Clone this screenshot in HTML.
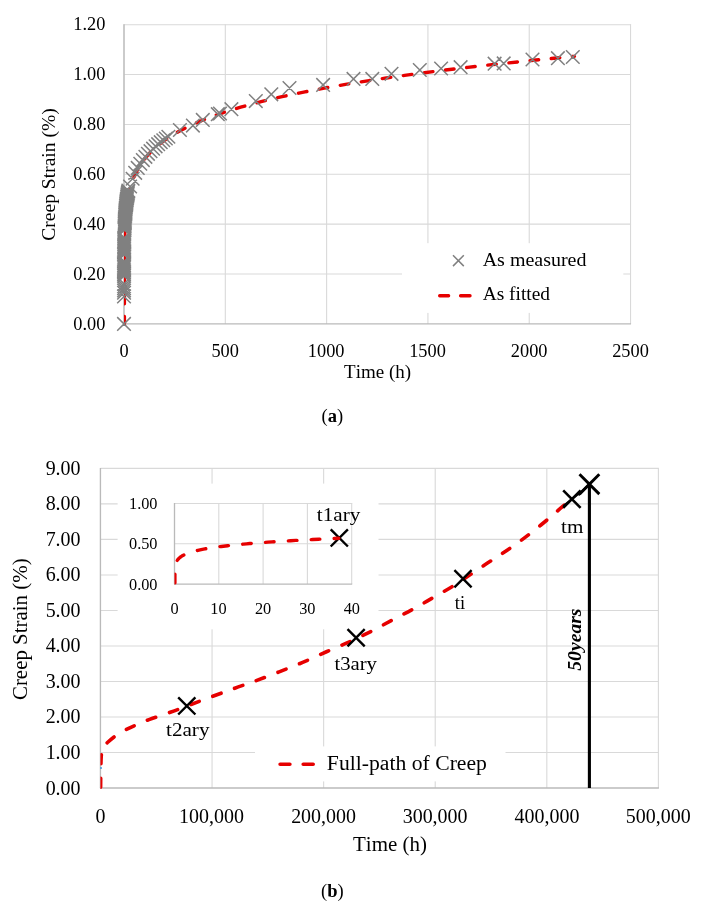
<!DOCTYPE html>
<html><head><meta charset="utf-8"><title>Creep strain charts</title>
<style>
html,body{margin:0;padding:0;background:#fff;}
body{width:701px;height:914px;overflow:hidden;}
svg{display:block;will-change:transform;}
text{font-family:"Liberation Serif", serif;fill:#000;font-kerning:none;}
</style></head>
<body>
<svg width="701" height="914" viewBox="0 0 701 914">
<rect width="701" height="914" fill="#fff"/>
<line x1="124" y1="274.03" x2="631.05" y2="274.03" stroke="#d9d9d9" stroke-width="1.1"/>
<line x1="124" y1="224.17" x2="631.05" y2="224.17" stroke="#d9d9d9" stroke-width="1.1"/>
<line x1="124" y1="174.3" x2="631.05" y2="174.3" stroke="#d9d9d9" stroke-width="1.1"/>
<line x1="124" y1="124.43" x2="631.05" y2="124.43" stroke="#d9d9d9" stroke-width="1.1"/>
<line x1="124" y1="74.57" x2="631.05" y2="74.57" stroke="#d9d9d9" stroke-width="1.1"/>
<line x1="124" y1="24.7" x2="631.05" y2="24.7" stroke="#d9d9d9" stroke-width="1.1"/>
<line x1="124" y1="24.2" x2="124" y2="323.9" stroke="#d9d9d9" stroke-width="1.1"/>
<line x1="225.31" y1="24.2" x2="225.31" y2="323.9" stroke="#d9d9d9" stroke-width="1.1"/>
<line x1="326.62" y1="24.2" x2="326.62" y2="323.9" stroke="#d9d9d9" stroke-width="1.1"/>
<line x1="427.93" y1="24.2" x2="427.93" y2="323.9" stroke="#d9d9d9" stroke-width="1.1"/>
<line x1="529.24" y1="24.2" x2="529.24" y2="323.9" stroke="#d9d9d9" stroke-width="1.1"/>
<line x1="630.55" y1="24.2" x2="630.55" y2="323.9" stroke="#d9d9d9" stroke-width="1.1"/>
<line x1="123.5" y1="323.9" x2="631.05" y2="323.9" stroke="#bababa" stroke-width="1.3"/>
<line x1="124" y1="24.2" x2="124" y2="323.9" stroke="#bababa" stroke-width="1.3"/>
<rect x="402" y="243.2" width="221.3" height="69.7" fill="#fff"/>
<text x="73.22" y="330.00" font-size="18.9" textLength="32.08" lengthAdjust="spacingAndGlyphs">0.00</text>
<text x="73.22" y="280.00" font-size="18.9" textLength="32.08" lengthAdjust="spacingAndGlyphs">0.20</text>
<text x="73.22" y="230.00" font-size="18.9" textLength="32.08" lengthAdjust="spacingAndGlyphs">0.40</text>
<text x="73.22" y="180.00" font-size="18.9" textLength="32.08" lengthAdjust="spacingAndGlyphs">0.60</text>
<text x="73.22" y="130.00" font-size="18.9" textLength="32.08" lengthAdjust="spacingAndGlyphs">0.80</text>
<text x="73.22" y="80.00" font-size="18.9" textLength="32.08" lengthAdjust="spacingAndGlyphs">1.00</text>
<text x="73.22" y="30.00" font-size="18.9" textLength="32.08" lengthAdjust="spacingAndGlyphs">1.20</text>
<text x="119.42" y="356.70" font-size="18.9" textLength="9.17" lengthAdjust="spacingAndGlyphs">0</text>
<text x="211.38" y="356.70" font-size="18.9" textLength="27.50" lengthAdjust="spacingAndGlyphs">500</text>
<text x="307.83" y="356.70" font-size="18.9" textLength="36.67" lengthAdjust="spacingAndGlyphs">1000</text>
<text x="409.14" y="356.70" font-size="18.9" textLength="36.67" lengthAdjust="spacingAndGlyphs">1500</text>
<text x="510.85" y="356.70" font-size="18.9" textLength="36.67" lengthAdjust="spacingAndGlyphs">2000</text>
<text x="612.16" y="356.70" font-size="18.9" textLength="36.67" lengthAdjust="spacingAndGlyphs">2500</text>
<text x="344.06" y="378.20" font-size="18.3" textLength="67.08" lengthAdjust="spacingAndGlyphs">Time (h)</text>
<text transform="translate(54.80,0) rotate(-90)" x="-240.70" y="0" font-size="18.5" textLength="132.46" lengthAdjust="spacingAndGlyphs">Creep Strain (%)</text>
<text x="332.3" y="422.4" text-anchor="middle" font-size="18.5">(<tspan font-weight="bold">a</tspan>)</text>
<clipPath id="ca"><rect x="124" y="0" width="520" height="340"/></clipPath>
<g clip-path="url(#ca)"><path d="M124.4,324.3 L124.4,305.03 L124.4,304.93 L124.4,304.82 L124.4,304.72 L124.4,304.62 L124.4,304.51 L124.4,304.41 L124.4,304.3 L124.4,304.2 L124.4,304.09 L124.4,303.99 L124.4,303.88 L124.4,303.77 L124.4,303.66 L124.4,303.55 L124.4,303.44 L124.4,303.33 L124.4,303.22 L124.4,303.11 L124.4,303 L124.4,302.89 L124.4,302.78 L124.4,302.66 L124.4,302.55 L124.4,302.43 L124.4,302.32 L124.4,302.2 L124.4,302.08 L124.4,301.97 L124.4,301.85 L124.4,301.73 L124.4,301.61 L124.4,301.49 L124.4,301.37 L124.4,301.25 L124.4,301.13 L124.4,301.01 L124.4,300.88 L124.4,300.76 L124.4,300.64 L124.4,300.51 L124.4,300.39 L124.4,300.26 L124.4,300.13 L124.4,300 L124.4,299.88 L124.4,299.75 L124.4,299.62 L124.4,299.49 L124.4,299.36 L124.4,299.23 L124.4,299.09 L124.4,298.96 L124.4,298.83 L124.4,298.69 L124.4,298.56 L124.4,298.42 L124.4,298.28 L124.4,298.15 L124.4,298.01 L124.4,297.87 L124.4,297.73 L124.4,297.59 L124.4,297.45 L124.4,297.31 L124.4,297.16 L124.4,297.02 L124.4,296.88 L124.4,296.73 L124.4,296.59 L124.4,296.44 L124.4,296.29 L124.4,296.15 L124.4,296 L124.4,295.85 L124.4,295.7 L124.4,295.55 L124.4,295.4 L124.4,295.24 L124.4,295.09 L124.4,294.94 L124.4,294.78 L124.4,294.62 L124.4,294.47 L124.4,294.31 L124.4,294.15 L124.4,293.99 L124.4,293.83 L124.4,293.67 L124.4,293.51 L124.4,293.35 L124.4,293.18 L124.4,293.02 L124.4,292.86 L124.4,292.69 L124.4,292.52 L124.4,292.35 L124.4,292.19 L124.4,292.02 L124.4,291.85 L124.4,291.68 L124.4,291.5 L124.4,291.33 L124.4,291.16 L124.4,290.98 L124.4,290.8 L124.4,290.63 L124.4,290.45 L124.4,290.27 L124.4,290.09 L124.4,289.91 L124.4,289.73 L124.4,289.55 L124.4,289.36 L124.4,289.18 L124.4,288.99 L124.4,288.81 L124.4,288.62 L124.4,288.43 L124.4,288.24 L124.4,288.05 L124.4,287.86 L124.4,287.67 L124.4,287.48 L124.4,287.28 L124.4,287.09 L124.4,286.89 L124.4,286.69 L124.4,286.49 L124.4,286.29 L124.4,286.09 L124.4,285.89 L124.4,285.69 L124.4,285.49 L124.4,285.28 L124.4,285.07 L124.4,284.87 L124.4,284.66 L124.4,284.45 L124.4,284.24 L124.4,284.03 L124.4,283.82 L124.4,283.6 L124.4,283.39 L124.4,283.17 L124.4,282.95 L124.4,282.74 L124.4,282.52 L124.4,282.3 L124.4,282.07 L124.4,281.85 L124.4,281.63 L124.4,281.4 L124.4,281.18 L124.4,280.95 L124.4,280.72 L124.4,280.49 L124.4,280.26 L124.4,280.03 L124.4,279.79 L124.4,279.56 L124.4,279.32 L124.4,279.08 L124.41,278.84 L124.41,278.6 L124.41,278.36 L124.41,278.12 L124.41,277.88 L124.41,277.63 L124.41,277.39 L124.41,277.14 L124.41,276.89 L124.41,276.64 L124.41,276.39 L124.41,276.13 L124.41,275.88 L124.41,275.63 L124.41,275.37 L124.41,275.11 L124.41,274.85 L124.41,274.59 L124.41,274.33 L124.41,274.06 L124.41,273.8 L124.41,273.53 L124.41,273.26 L124.41,272.99 L124.41,272.72 L124.41,272.45 L124.41,272.18 L124.41,271.9 L124.41,271.63 L124.41,271.35 L124.41,271.07 L124.41,270.79 L124.41,270.5 L124.42,270.22 L124.42,269.94 L124.42,269.65 L124.42,269.36 L124.42,269.07 L124.42,268.78 L124.42,268.49 L124.42,268.19 L124.42,267.89 L124.42,267.6 L124.42,267.3 L124.42,267 L124.42,266.69 L124.42,266.39 L124.42,266.08 L124.43,265.78 L124.43,265.47 L124.43,265.16 L124.43,264.85 L124.43,264.53 L124.43,264.22 L124.43,263.9 L124.43,263.58 L124.43,263.26 L124.43,262.94 L124.44,262.61 L124.44,262.29 L124.44,261.96 L124.44,261.63 L124.44,261.3 L124.44,260.97 L124.44,260.63 L124.45,260.3 L124.45,259.96 L124.45,259.62 L124.45,259.28 L124.45,258.94 L124.45,258.59 L124.46,258.24 L124.46,257.9 L124.46,257.55 L124.46,257.19 L124.46,256.84 L124.47,256.48 L124.47,256.13 L124.47,255.77 L124.47,255.4 L124.48,255.04 L124.48,254.67 L124.48,254.31 L124.48,253.94 L124.49,253.57 L124.49,253.19 L124.49,252.82 L124.5,252.44 L124.5,252.06 L124.5,251.68 L124.51,251.3 L124.51,250.91 L124.51,250.52 L124.52,250.13 L124.52,249.74 L124.53,249.35 L124.53,248.95 L124.53,248.56 L124.54,248.16 L124.54,247.75 L124.55,247.35 L124.55,246.94 L124.56,246.54 L124.56,246.13 L124.57,245.71 L124.58,245.3 L124.58,244.88 L124.59,244.46 L124.59,244.04 L124.6,243.62 L124.61,243.19 L124.62,242.76 L124.62,242.33 L124.63,241.9 L124.64,241.46 L124.65,241.03 L124.65,240.59 L124.66,240.15 L124.67,239.7 L124.68,239.26 L124.69,238.81 L124.7,238.36 L124.71,237.9 L124.72,237.45 L124.73,236.99 L124.75,236.53 L124.76,236.06 L124.77,235.6 L124.78,235.13 L124.8,234.66 L124.81,234.19 L124.82,233.71 L124.84,233.23 L124.85,232.75 L124.87,232.27 L124.88,231.78 L124.9,231.29 L124.92,230.8 L124.94,230.31 L124.95,229.81 L124.97,229.31 L124.99,228.81 L125.01,228.31 L125.03,227.8 L125.06,227.29 L125.08,226.78 L125.1,226.27 L125.13,225.75 L125.15,225.23 L125.18,224.71 L125.2,224.18 L125.23,223.65 L125.26,223.12 L125.29,222.59 L125.32,222.05 L125.35,221.51 L125.39,220.97 L125.42,220.42 L125.45,219.87 L125.49,219.32 L125.53,218.77 L125.57,218.21 L125.61,217.65 L125.65,217.09 L125.69,216.52 L125.74,215.95 L125.78,215.38 L125.83,214.81 L125.88,214.23 L125.93,213.65 L125.98,213.06 L126.04,212.48 L126.09,211.89 L126.15,211.29 L126.21,210.7 L126.27,210.1 L126.34,209.49 L126.41,208.89 L126.48,208.28 L126.55,207.67 L126.62,207.05 L126.7,206.43 L126.78,205.81 L126.86,205.19 L126.94,204.56 L127.03,203.92 L127.12,203.29 L127.21,202.65 L127.31,202.01 L127.41,201.36 L127.51,200.71 L127.62,200.06 L127.73,199.41 L127.85,198.75 L127.97,198.08 L128.09,197.42 L128.22,196.75 L128.35,196.07 L128.48,195.4 L128.62,194.72 L128.77,194.03 L128.92,193.35 L129.07,192.65 L129.23,191.96 L129.4,191.26 L129.57,190.56 L129.75,189.85 L129.94,189.14 L130.13,188.43 L130.32,187.71 L130.53,186.99 L130.74,186.27 L130.96,185.54 L131.18,184.81 L131.41,184.07 L131.66,183.33 L131.91,182.59 L132.16,181.84 L132.43,181.09 L132.71,180.33 L132.99,179.57 L133.29,178.81 L133.59,178.04 L133.91,177.27 L134.24,176.49 L134.58,175.71 L134.93,174.93 L135.29,174.14 L135.66,173.34 L136.05,172.55 L136.45,171.75 L136.87,170.94 L137.3,170.13 L137.74,169.32 L138.2,168.5 L138.67,167.68 L139.16,166.85 L139.67,166.02 L140.2,165.19 L140.74,164.35 L141.3,163.5 L141.89,162.65 L142.49,161.8 L143.11,160.94 L143.75,160.08 L144.42,159.21 L145.11,158.34 L145.82,157.47 L146.56,156.58 L147.32,155.7 L148.11,154.81 L148.93,153.92 L149.77,153.02 L150.64,152.11 L151.55,151.2 L152.48,150.29 L153.45,149.37 L154.45,148.45 L155.48,147.52 L156.55,146.59 L157.66,145.65 L158.8,144.71 L159.98,143.76 L161.21,142.8 L162.47,141.85 L163.78,140.88 L165.14,139.92 L166.54,138.94 L167.99,137.96 L169.49,136.98 L171.04,135.99 L172.65,135 L174.31,134 L176.03,132.99 L177.8,131.98 L179.64,130.97 L181.54,129.95 L183.51,128.92 L185.54,127.89 L187.65,126.86 L189.82,125.81 L192.07,124.77 L194.4,123.71 L196.81,122.65 L199.3,121.59 L201.88,120.52 L204.55,119.44 L207.3,118.36 L210.16,117.28 L213.11,116.18 L216.16,115.08 L219.32,113.98 L222.58,112.87 L225.96,111.75 L229.46,110.63 L233.07,109.5 L236.81,108.37 L240.68,107.23 L244.68,106.08 L248.82,104.93 L253.1,103.78 L257.53,102.61 L262.11,101.44 L266.85,100.26 L271.75,99.08 L276.82,97.89 L282.07,96.7 L287.49,95.5 L293.11,94.29 L298.91,93.08 L304.92,91.86 L311.13,90.63 L317.55,89.4 L324.2,88.16 L331.08,86.91 L338.19,85.66 L345.54,84.4 L353.15,83.13 L361.03,81.86 L369.17,80.58 L377.59,79.29 L386.3,78 L395.32,76.7 L404.64,75.39 L414.28,74.08 L424.26,72.76 L434.58,71.43 L445.25,70.09 L456.29,68.75 L467.71,67.4 L479.52,66.05 L491.74,64.68 L504.38,63.31 L517.46,61.94 L530.99,60.55 L544.98,59.16 L559.45,57.76 L574.42,56.35" stroke="#e60000" stroke-width="3.4" fill="none" stroke-dasharray="8.60 12.67" stroke-dashoffset="0.72" stroke-linecap="round" stroke-linejoin="round"/></g>
<path d="M117.2,317.1L130.8,330.7M117.2,330.7L130.8,317.1M117.2,289.67L130.8,303.27M117.2,303.27L130.8,289.67M117.25,285.93L130.85,299.53M117.25,299.53L130.85,285.93M117.25,283.69L130.85,297.29M117.25,297.29L130.85,283.69M117.25,281.45L130.85,295.05M117.25,295.05L130.85,281.45M117.25,279.2L130.85,292.8M117.25,292.8L130.85,279.2M117.25,276.96L130.85,290.56M117.25,290.56L130.85,276.96M117.25,269.1L130.85,282.7M117.25,282.7L130.85,269.1M117.25,267.98L130.85,281.58M117.25,281.58L130.85,267.98M117.25,266.86L130.85,280.46M117.25,280.46L130.85,266.86M117.25,265.74L130.85,279.34M117.25,279.34L130.85,265.74M117.26,264.62L130.86,278.22M117.26,278.22L130.86,264.62M117.26,263.49L130.86,277.09M117.26,277.09L130.86,263.49M117.26,262.37L130.86,275.97M117.26,275.97L130.86,262.37M117.26,261.25L130.86,274.85M117.26,274.85L130.86,261.25M117.26,260.13L130.86,273.73M117.26,273.73L130.86,260.13M117.27,259.01L130.87,272.61M117.27,272.61L130.87,259.01M117.27,257.88L130.87,271.48M117.27,271.48L130.87,257.88M117.27,256.76L130.87,270.36M117.27,270.36L130.87,256.76M117.27,255.64L130.87,269.24M117.27,269.24L130.87,255.64M117.28,254.52L130.88,268.12M117.28,268.12L130.88,254.52M117.31,247.79L130.91,261.39M117.31,261.39L130.91,247.79M117.32,246.66L130.92,260.26M117.32,260.26L130.92,246.66M117.32,245.54L130.92,259.14M117.32,259.14L130.92,245.54M117.33,244.42L130.93,258.02M117.33,258.02L130.93,244.42M117.34,243.3L130.94,256.9M117.34,256.9L130.94,243.3M117.35,242.18L130.95,255.78M117.35,255.78L130.95,242.18M117.36,241.05L130.96,254.65M117.36,254.65L130.96,241.05M117.37,239.93L130.97,253.53M117.37,253.53L130.97,239.93M117.39,238.81L130.99,252.41M117.39,252.41L130.99,238.81M117.4,237.69L131,251.29M117.4,251.29L131,237.69M117.41,236.57L131.01,250.17M117.41,250.17L131.01,236.57M117.43,235.44L131.03,249.04M117.43,249.04L131.03,235.44M117.45,234.32L131.05,247.92M117.45,247.92L131.05,234.32M117.46,233.2L131.06,246.8M117.46,246.8L131.06,233.2M117.48,232.08L131.08,245.68M117.48,245.68L131.08,232.08M117.51,230.96L131.11,244.56M117.51,244.56L131.11,230.96M117.7,223.1L131.3,236.7M117.7,236.7L131.3,223.1M117.74,221.98L131.34,235.58M117.74,235.58L131.34,221.98M117.78,220.86L131.38,234.46M117.78,234.46L131.38,220.86M117.82,219.74L131.42,233.34M117.82,233.34L131.42,219.74M117.86,218.61L131.46,232.21M117.86,232.21L131.46,218.61M117.91,217.49L131.51,231.09M117.91,231.09L131.51,217.49M117.96,216.37L131.56,229.97M117.96,229.97L131.56,216.37M118.01,215.25L131.61,228.85M118.01,228.85L131.61,215.25M118.06,214.13L131.66,227.73M118.06,227.73L131.66,214.13M118.12,213L131.72,226.6M118.12,226.6L131.72,213M118.19,211.88L131.79,225.48M118.19,225.48L131.79,211.88M118.25,210.76L131.85,224.36M118.25,224.36L131.85,210.76M118.32,209.64L131.92,223.24M118.32,223.24L131.92,209.64M118.4,208.52L132,222.12M118.4,222.12L132,208.52M118.48,207.39L132.08,220.99M118.48,220.99L132.08,207.39M118.56,206.27L132.16,219.87M118.56,219.87L132.16,206.27M118.65,205.15L132.25,218.75M118.65,218.75L132.25,205.15M118.74,204.03L132.34,217.63M118.74,217.63L132.34,204.03M118.84,202.91L132.44,216.51M118.84,216.51L132.44,202.91M118.94,201.78L132.54,215.38M118.94,215.38L132.54,201.78M119.05,200.66L132.65,214.26M119.05,214.26L132.65,200.66M119.16,199.54L132.76,213.14M119.16,213.14L132.76,199.54M119.29,198.42L132.89,212.02M119.29,212.02L132.89,198.42M119.41,197.3L133.01,210.9M119.41,210.9L133.01,197.3M119.55,196.17L133.15,209.77M119.55,209.77L133.15,196.17M119.69,195.05L133.29,208.65M119.69,208.65L133.29,195.05M119.84,193.93L133.44,207.53M119.84,207.53L133.44,193.93M119.99,192.81L133.59,206.41M119.99,206.41L133.59,192.81M120.15,191.69L133.75,205.29M120.15,205.29L133.75,191.69M120.33,190.56L133.93,204.16M120.33,204.16L133.93,190.56M120.51,189.44L134.11,203.04M120.51,203.04L134.11,189.44M120.69,188.32L134.29,201.92M120.69,201.92L134.29,188.32M120.89,187.2L134.49,200.8M120.89,200.8L134.49,187.2M121.1,186.08L134.7,199.68M121.1,199.68L134.7,186.08M121.32,184.95L134.92,198.55M121.32,198.55L134.92,184.95M121.54,183.83L135.14,197.43M121.54,197.43L135.14,183.83M123.28,179.66L136.88,193.26M123.28,193.26L136.88,179.66M125.83,171.97L139.43,185.57M125.83,185.57L139.43,171.97M128.38,166.01L141.98,179.61M128.38,179.61L141.98,166.01M130.94,161.11L144.54,174.71M130.94,174.71L144.54,161.11M133.49,156.92L147.09,170.52M133.49,170.52L147.09,156.92M136.04,153.26L149.64,166.86M136.04,166.86L149.64,153.26M138.6,150L152.2,163.6M138.6,163.6L152.2,150M141.15,147.04L154.75,160.64M141.15,160.64L154.75,147.04M143.7,144.35L157.3,157.95M143.7,157.95L157.3,144.35M146.26,141.86L159.86,155.46M146.26,155.46L159.86,141.86M148.81,139.55L162.41,153.15M148.81,153.15L162.41,139.55M151.36,137.4L164.96,151M151.36,151L164.96,137.4M153.91,135.38L167.51,148.98M153.91,148.98L167.51,135.38M156.47,133.47L170.07,147.07M156.47,147.07L170.07,133.47M159.02,131.66L172.62,145.26M159.02,145.26L172.62,131.66M161.57,129.95L175.17,143.55M161.57,143.55L175.17,129.95M173.1,123.2L186.7,136.8M173.1,136.8L186.7,123.2M186.1,118.8L199.7,132.4M186.1,132.4L199.7,118.8M196,113.1L209.6,126.7M196,126.7L209.6,113.1M211,107.4L224.6,121M211,121L224.6,107.4M213.2,106.7L226.8,120.3M213.2,120.3L226.8,106.7M224.6,102.4L238.2,116M224.6,116L238.2,102.4M249,94.3L262.6,107.9M249,107.9L262.6,94.3M264.5,87.5L278.1,101.1M264.5,101.1L278.1,87.5M282.7,81.2L296.3,94.8M282.7,94.8L296.3,81.2M316.3,78.1L329.9,91.7M316.3,91.7L329.9,78.1M346.7,72.1L360.3,85.7M346.7,85.7L360.3,72.1M365.5,72.1L379.1,85.7M365.5,85.7L379.1,72.1M384.7,67L398.3,80.6M384.7,80.6L398.3,67M413,63.2L426.6,76.8M413,76.8L426.6,63.2M434.3,61.7L447.9,75.3M434.3,75.3L447.9,61.7M453.8,60.4L467.4,74M453.8,74L467.4,60.4M487.8,56.9L501.4,70.5M487.8,70.5L501.4,56.9M496.9,56.6L510.5,70.2M496.9,70.2L510.5,56.6M525.7,52.7L539.3,66.3M525.7,66.3L539.3,52.7M551.1,51.4L564.7,65M551.1,65L564.7,51.4M566,50.2L579.6,63.8M566,63.8L579.6,50.2" stroke="#808080" stroke-width="1.5" fill="none"/>
<path d="M453,255.3L463.8,266.1M453,266.1L463.8,255.3" stroke="#808080" stroke-width="1.5" fill="none"/>
<path d="M439.7,295.7H448.6M460.6,295.7H470" stroke="#e60000" stroke-width="3.4" stroke-linecap="round"/>
<text x="482.70" y="266.20" font-size="18.0" textLength="103.74" lengthAdjust="spacingAndGlyphs">As measured</text>
<text x="482.71" y="300.40" font-size="18.0" textLength="67.33" lengthAdjust="spacingAndGlyphs">As fitted</text>
<line x1="100.45" y1="752.49" x2="658.9" y2="752.49" stroke="#d9d9d9" stroke-width="1.1"/>
<line x1="100.45" y1="716.98" x2="658.9" y2="716.98" stroke="#d9d9d9" stroke-width="1.1"/>
<line x1="100.45" y1="681.47" x2="658.9" y2="681.47" stroke="#d9d9d9" stroke-width="1.1"/>
<line x1="100.45" y1="645.96" x2="658.9" y2="645.96" stroke="#d9d9d9" stroke-width="1.1"/>
<line x1="100.45" y1="610.44" x2="658.9" y2="610.44" stroke="#d9d9d9" stroke-width="1.1"/>
<line x1="100.45" y1="574.93" x2="658.9" y2="574.93" stroke="#d9d9d9" stroke-width="1.1"/>
<line x1="100.45" y1="539.42" x2="658.9" y2="539.42" stroke="#d9d9d9" stroke-width="1.1"/>
<line x1="100.45" y1="503.91" x2="658.9" y2="503.91" stroke="#d9d9d9" stroke-width="1.1"/>
<line x1="100.45" y1="468.4" x2="658.9" y2="468.4" stroke="#d9d9d9" stroke-width="1.1"/>
<line x1="100.45" y1="467.9" x2="100.45" y2="788" stroke="#d9d9d9" stroke-width="1.1"/>
<line x1="212.04" y1="467.9" x2="212.04" y2="788" stroke="#d9d9d9" stroke-width="1.1"/>
<line x1="323.63" y1="467.9" x2="323.63" y2="788" stroke="#d9d9d9" stroke-width="1.1"/>
<line x1="435.22" y1="467.9" x2="435.22" y2="788" stroke="#d9d9d9" stroke-width="1.1"/>
<line x1="546.81" y1="467.9" x2="546.81" y2="788" stroke="#d9d9d9" stroke-width="1.1"/>
<line x1="658.4" y1="467.9" x2="658.4" y2="788" stroke="#d9d9d9" stroke-width="1.1"/>
<line x1="99.95" y1="788" x2="658.9" y2="788" stroke="#bababa" stroke-width="1.3"/>
<line x1="100.45" y1="467.9" x2="100.45" y2="788" stroke="#bababa" stroke-width="1.3"/>
<rect x="255" y="746.4" width="250.5" height="35" fill="#fff"/>
<rect x="117.6" y="483.6" width="260.9" height="145.7" fill="#fff"/>
<text x="45.65" y="794.50" font-size="21.0" textLength="34.91" lengthAdjust="spacingAndGlyphs">0.00</text>
<text x="45.65" y="758.99" font-size="21.0" textLength="34.91" lengthAdjust="spacingAndGlyphs">1.00</text>
<text x="45.65" y="723.48" font-size="21.0" textLength="34.91" lengthAdjust="spacingAndGlyphs">2.00</text>
<text x="45.65" y="687.97" font-size="21.0" textLength="34.91" lengthAdjust="spacingAndGlyphs">3.00</text>
<text x="45.65" y="652.46" font-size="21.0" textLength="34.91" lengthAdjust="spacingAndGlyphs">4.00</text>
<text x="45.65" y="616.94" font-size="21.0" textLength="34.91" lengthAdjust="spacingAndGlyphs">5.00</text>
<text x="45.65" y="581.43" font-size="21.0" textLength="34.91" lengthAdjust="spacingAndGlyphs">6.00</text>
<text x="45.65" y="545.92" font-size="21.0" textLength="34.91" lengthAdjust="spacingAndGlyphs">7.00</text>
<text x="45.65" y="510.41" font-size="21.0" textLength="34.91" lengthAdjust="spacingAndGlyphs">8.00</text>
<text x="45.65" y="474.90" font-size="21.0" textLength="34.91" lengthAdjust="spacingAndGlyphs">9.00</text>
<text x="95.46" y="823.10" font-size="21.0" textLength="9.97" lengthAdjust="spacingAndGlyphs">0</text>
<text x="179.12" y="823.10" font-size="21.0" textLength="64.84" lengthAdjust="spacingAndGlyphs">100,000</text>
<text x="291.15" y="823.10" font-size="21.0" textLength="64.84" lengthAdjust="spacingAndGlyphs">200,000</text>
<text x="402.70" y="823.10" font-size="21.0" textLength="64.84" lengthAdjust="spacingAndGlyphs">300,000</text>
<text x="514.58" y="823.10" font-size="21.0" textLength="64.84" lengthAdjust="spacingAndGlyphs">400,000</text>
<text x="625.78" y="823.10" font-size="21.0" textLength="64.84" lengthAdjust="spacingAndGlyphs">500,000</text>
<text x="353.02" y="850.50" font-size="20.3" textLength="73.90" lengthAdjust="spacingAndGlyphs">Time (h)</text>
<text transform="translate(26.90,0) rotate(-90)" x="-700.06" y="0" font-size="20.3" textLength="141.68" lengthAdjust="spacingAndGlyphs">Creep Strain (%)</text>
<text x="332.3" y="897.1" text-anchor="middle" font-size="18.5">(<tspan font-weight="bold">b</tspan>)</text>
<clipPath id="cb"><rect x="100.45" y="400" width="600" height="400"/></clipPath>
<g clip-path="url(#cb)"><path d="M100.6,788.3 C100.63,785.25 100.7,775.22 100.8,770 C100.9,764.78 101,760.25 101.2,757 C101.4,753.75 101.67,752.23 102,750.5 C102.33,748.77 102.55,747.7 103.2,746.6 C103.85,745.5 103.98,745.58 105.9,743.9 C107.82,742.22 111.55,738.77 114.7,736.5 C117.85,734.23 121.45,732.13 124.8,730.3 C128.15,728.47 130.77,727.28 134.8,725.5 C138.83,723.72 142.97,721.85 149,719.6 C155.03,717.35 164.75,714.23 171,712 C177.25,709.77 179.53,708.82 186.5,706.2 C193.47,703.58 204.75,699.3 212.8,696.3 C220.85,693.3 227.9,690.68 234.8,688.2 C241.7,685.72 246.92,684.08 254.2,681.4 C261.48,678.72 270.42,675.27 278.5,672.1 C286.58,668.93 294.62,665.83 302.7,662.4 C310.78,658.97 318.92,655.07 327,651.5 C335.08,647.93 343.87,644.35 351.2,641 C358.53,637.65 364.17,634.88 371,631.4 C377.83,627.92 385.27,623.77 392.2,620.1 C399.13,616.43 405.8,613.13 412.6,609.4 C419.4,605.67 426.2,601.62 433,597.7 C439.8,593.78 448.4,588.93 453.4,585.9 C458.4,582.87 458.12,582.78 463,579.5 C467.88,576.22 476.53,570.28 482.7,566.2 C488.87,562.12 494.28,558.8 500,555 C505.72,551.2 511.33,547.48 517,543.4 C522.67,539.32 528.3,534.98 534,530.5 C539.7,526.02 546.05,520.83 551.2,516.5 C556.35,512.17 561.47,507.33 564.9,504.5 C568.33,501.67 570.65,500.33 571.8,499.5" stroke="#e60000" stroke-width="3.6" fill="none" stroke-dasharray="8.70 14.46" stroke-dashoffset="21.76" stroke-linecap="round" stroke-linejoin="round"/></g>
<circle cx="101" cy="768" r="1" fill="#3b9be0"/>
<path d="M178.2,697.3L195.4,714.5M178.2,714.5L195.4,697.3" stroke="#000" stroke-width="2.4" fill="none"/>
<path d="M347.5,629.1L364.7,646.3M347.5,646.3L364.7,629.1" stroke="#000" stroke-width="2.4" fill="none"/>
<path d="M454.4,570.1L471.6,587.3M454.4,587.3L471.6,570.1" stroke="#000" stroke-width="2.4" fill="none"/>
<path d="M563.4,506.2L571.9,499.1L578.5,493.6L579.2,494.3L589.4,484.2" stroke="#000" stroke-width="2.3" fill="none"/>
<path d="M589.4,484.2V788" stroke="#000" stroke-width="3.1"/>
<path d="M563.2,490.4L580.6,507.8M563.2,507.8L580.6,490.4" stroke="#000" stroke-width="2.6" fill="none"/>
<path d="M579.5,474.3L599.3,494.1M579.5,494.1L599.3,474.3" stroke="#000" stroke-width="2.9" fill="none"/>
<text x="166.09" y="736.00" font-size="19.2" textLength="43.39" lengthAdjust="spacingAndGlyphs">t2ary</text>
<text x="334.40" y="670.20" font-size="19.2" textLength="42.58" lengthAdjust="spacingAndGlyphs">t3ary</text>
<text x="454.72" y="608.90" font-size="19.2" textLength="10.34" lengthAdjust="spacingAndGlyphs">ti</text>
<text x="561.09" y="533.40" font-size="19.2" textLength="22.34" lengthAdjust="spacingAndGlyphs">tm</text>
<text transform="translate(580.80,0) rotate(-90)" x="-670.72" y="0" font-size="19.5" textLength="62.23" lengthAdjust="spacingAndGlyphs" font-weight="bold" font-style="italic">50years</text>
<path d="M280.1,764.3H289.9M303.2,764.3H313.2" stroke="#e60000" stroke-width="3.6" stroke-linecap="round"/>
<text x="326.88" y="769.90" font-size="20.0" textLength="160.07" lengthAdjust="spacingAndGlyphs">Full-path of Creep</text>
<line x1="174.5" y1="543.8" x2="352.2" y2="543.8" stroke="#d9d9d9" stroke-width="1.1"/>
<line x1="174.5" y1="503.5" x2="352.2" y2="503.5" stroke="#d9d9d9" stroke-width="1.1"/>
<line x1="174.5" y1="503" x2="174.5" y2="584.1" stroke="#d9d9d9" stroke-width="1.1"/>
<line x1="218.8" y1="503" x2="218.8" y2="584.1" stroke="#d9d9d9" stroke-width="1.1"/>
<line x1="263.1" y1="503" x2="263.1" y2="584.1" stroke="#d9d9d9" stroke-width="1.1"/>
<line x1="307.4" y1="503" x2="307.4" y2="584.1" stroke="#d9d9d9" stroke-width="1.1"/>
<line x1="351.7" y1="503" x2="351.7" y2="584.1" stroke="#d9d9d9" stroke-width="1.1"/>
<line x1="174" y1="584.1" x2="352.2" y2="584.1" stroke="#bababa" stroke-width="1.3"/>
<line x1="174.5" y1="503" x2="174.5" y2="584.1" stroke="#bababa" stroke-width="1.3"/>
<text x="129.00" y="589.50" font-size="16.8" textLength="28.52" lengthAdjust="spacingAndGlyphs">0.00</text>
<text x="129.00" y="549.20" font-size="16.8" textLength="28.52" lengthAdjust="spacingAndGlyphs">0.50</text>
<text x="129.00" y="508.90" font-size="16.8" textLength="28.52" lengthAdjust="spacingAndGlyphs">1.00</text>
<text x="170.43" y="613.70" font-size="16.8" textLength="8.15" lengthAdjust="spacingAndGlyphs">0</text>
<text x="210.25" y="613.70" font-size="16.8" textLength="16.30" lengthAdjust="spacingAndGlyphs">10</text>
<text x="254.90" y="613.70" font-size="16.8" textLength="16.30" lengthAdjust="spacingAndGlyphs">20</text>
<text x="299.17" y="613.70" font-size="16.8" textLength="16.30" lengthAdjust="spacingAndGlyphs">30</text>
<text x="343.70" y="613.70" font-size="16.8" textLength="16.30" lengthAdjust="spacingAndGlyphs">40</text>
<clipPath id="ci"><rect x="174.5" y="490" width="200" height="100"/></clipPath>
<path d="M330.7,529.3L347.9,546.5M330.7,546.5L347.9,529.3" stroke="#000" stroke-width="2.4" fill="none"/>
<g clip-path="url(#ci)"><path d="M174.9,584.1 L174.9,581.06 L174.9,581.04 L174.9,581.02 L174.9,580.99 L174.9,580.97 L174.9,580.95 L174.9,580.93 L174.9,580.91 L174.9,580.89 L174.9,580.87 L174.9,580.84 L174.9,580.82 L174.9,580.8 L174.9,580.78 L174.9,580.75 L174.9,580.73 L174.9,580.71 L174.9,580.69 L174.9,580.66 L174.9,580.64 L174.9,580.62 L174.9,580.59 L174.9,580.57 L174.9,580.54 L174.9,580.52 L174.9,580.5 L174.9,580.47 L174.9,580.45 L174.9,580.42 L174.9,580.4 L174.9,580.37 L174.9,580.35 L174.9,580.32 L174.9,580.29 L174.9,580.27 L174.9,580.24 L174.9,580.22 L174.9,580.19 L174.9,580.16 L174.9,580.14 L174.9,580.11 L174.9,580.08 L174.9,580.05 L174.9,580.03 L174.9,580 L174.9,579.97 L174.9,579.94 L174.9,579.92 L174.9,579.89 L174.9,579.86 L174.9,579.83 L174.9,579.8 L174.9,579.77 L174.9,579.74 L174.9,579.71 L174.9,579.68 L174.9,579.65 L174.9,579.62 L174.9,579.59 L174.9,579.56 L174.9,579.53 L174.9,579.5 L174.9,579.47 L174.9,579.44 L174.9,579.4 L174.9,579.37 L174.9,579.34 L174.9,579.31 L174.9,579.28 L174.9,579.24 L174.9,579.21 L174.9,579.18 L174.9,579.14 L174.9,579.11 L174.9,579.07 L174.9,579.04 L174.9,579.01 L174.9,578.97 L174.9,578.94 L174.9,578.9 L174.9,578.87 L174.9,578.83 L174.9,578.79 L174.9,578.76 L174.9,578.72 L174.9,578.69 L174.9,578.65 L174.9,578.61 L174.9,578.57 L174.9,578.54 L174.9,578.5 L174.9,578.46 L174.9,578.42 L174.9,578.38 L174.9,578.35 L174.9,578.31 L174.9,578.27 L174.9,578.23 L174.9,578.19 L174.9,578.15 L174.9,578.11 L174.9,578.07 L174.9,578.02 L174.9,577.98 L174.9,577.94 L174.9,577.9 L174.9,577.86 L174.9,577.82 L174.9,577.77 L174.9,577.73 L174.9,577.69 L174.9,577.64 L174.9,577.6 L174.9,577.55 L174.9,577.51 L174.9,577.46 L174.9,577.42 L174.9,577.37 L174.9,577.33 L174.9,577.28 L174.9,577.24 L174.9,577.19 L174.9,577.14 L174.9,577.1 L174.9,577.05 L174.9,577 L174.9,576.95 L174.9,576.9 L174.9,576.85 L174.9,576.8 L174.9,576.75 L174.9,576.7 L174.9,576.65 L174.9,576.6 L174.9,576.55 L174.9,576.5 L174.9,576.45 L174.9,576.4 L174.9,576.35 L174.9,576.29 L174.9,576.24 L174.9,576.19 L174.9,576.13 L174.9,576.08 L174.9,576.02 L174.9,575.97 L174.9,575.91 L174.9,575.86 L174.9,575.8 L174.9,575.75 L174.9,575.69 L174.9,575.63 L174.9,575.57 L174.9,575.52 L174.9,575.46 L174.9,575.4 L174.9,575.34 L174.9,575.28 L174.9,575.22 L174.9,575.16 L174.9,575.1 L174.9,575.04 L174.91,574.98 L174.91,574.91 L174.91,574.85 L174.91,574.79 L174.91,574.72 L174.91,574.66 L174.91,574.6 L174.91,574.53 L174.91,574.47 L174.91,574.4 L174.91,574.34 L174.91,574.27 L174.91,574.2 L174.91,574.13 L174.91,574.07 L174.91,574 L174.91,573.93 L174.91,573.86 L174.91,573.79 L174.91,573.72 L174.91,573.65 L174.91,573.58 L174.91,573.51 L174.91,573.44 L174.91,573.36 L174.92,573.29 L174.92,573.22 L174.92,573.14 L174.92,573.07 L174.92,572.99 L174.92,572.92 L174.92,572.84 L174.92,572.76 L174.92,572.69 L174.92,572.61 L174.92,572.53 L174.92,572.45 L174.93,572.37 L174.93,572.29 L174.93,572.21 L174.93,572.13 L174.93,572.05 L174.93,571.97 L174.93,571.89 L174.93,571.8 L174.94,571.72 L174.94,571.64 L174.94,571.55 L174.94,571.47 L174.94,571.38 L174.95,571.29 L174.95,571.21 L174.95,571.12 L174.95,571.03 L174.95,570.94 L174.96,570.85 L174.96,570.76 L174.96,570.67 L174.96,570.58 L174.97,570.49 L174.97,570.4 L174.97,570.3 L174.98,570.21 L174.98,570.11 L174.98,570.02 L174.99,569.92 L174.99,569.83 L175,569.73 L175,569.63 L175,569.53 L175.01,569.43 L175.01,569.33 L175.02,569.23 L175.02,569.13 L175.03,569.03 L175.04,568.93 L175.04,568.83 L175.05,568.72 L175.05,568.62 L175.06,568.51 L175.07,568.41 L175.08,568.3 L175.08,568.19 L175.09,568.08 L175.1,567.97 L175.11,567.86 L175.12,567.75 L175.13,567.64 L175.14,567.53 L175.15,567.42 L175.16,567.31 L175.17,567.19 L175.18,567.08 L175.2,566.96 L175.21,566.84 L175.22,566.73 L175.24,566.61 L175.25,566.49 L175.27,566.37 L175.28,566.25 L175.3,566.13 L175.32,566 L175.34,565.88 L175.36,565.76 L175.38,565.63 L175.4,565.51 L175.42,565.38 L175.44,565.25 L175.47,565.13 L175.49,565 L175.52,564.87 L175.55,564.74 L175.58,564.6 L175.61,564.47 L175.64,564.34 L175.67,564.2 L175.71,564.07 L175.74,563.93 L175.78,563.79 L175.82,563.66 L175.86,563.52 L175.9,563.38 L175.95,563.24 L175.99,563.09 L176.04,562.95 L176.09,562.81 L176.15,562.66 L176.2,562.52 L176.26,562.37 L176.32,562.22 L176.38,562.07 L176.45,561.92 L176.52,561.77 L176.59,561.62 L176.67,561.47 L176.74,561.31 L176.83,561.16 L176.91,561 L177,560.85 L177.1,560.69 L177.19,560.53 L177.3,560.37 L177.4,560.21 L177.51,560.04 L177.63,559.88 L177.75,559.72 L177.88,559.55 L178.01,559.38 L178.15,559.22 L178.29,559.05 L178.44,558.88 L178.6,558.7 L178.77,558.53 L178.94,558.36 L179.12,558.18 L179.31,558.01 L179.5,557.83 L179.71,557.65 L179.92,557.47 L180.15,557.29 L180.38,557.11 L180.62,556.92 L180.88,556.74 L181.15,556.55 L181.42,556.36 L181.71,556.18 L182.02,555.99 L182.33,555.79 L182.67,555.6 L183.01,555.41 L183.37,555.21 L183.75,555.02 L184.14,554.82 L184.56,554.62 L184.99,554.42 L185.43,554.22 L185.9,554.01 L186.39,553.81 L186.91,553.6 L187.44,553.4 L188,553.19 L188.58,552.98 L189.19,552.77 L189.83,552.55 L190.49,552.34 L191.19,552.12 L191.91,551.9 L192.67,551.68 L193.46,551.46 L194.29,551.24 L195.15,551.02 L196.05,550.79 L196.99,550.57 L197.98,550.34 L199,550.11 L200.08,549.88 L201.2,549.65 L202.37,549.41 L203.59,549.18 L204.87,548.94 L206.21,548.7 L207.6,548.46 L209.06,548.22 L210.58,547.97 L212.17,547.73 L213.83,547.48 L215.56,547.23 L217.37,546.98 L219.26,546.73 L221.24,546.47 L223.3,546.22 L225.45,545.96 L227.7,545.7 L230.06,545.44 L232.51,545.17 L235.08,544.91 L237.76,544.64 L240.56,544.37 L243.48,544.1 L246.53,543.83 L249.72,543.56 L253.06,543.28 L256.54,543.01 L260.17,542.73 L263.97,542.44 L267.93,542.16 L272.08,541.88 L276.4,541.59 L280.92,541.3 L285.64,541.01 L290.58,540.71 L295.73,540.42 L301.11,540.12 L306.73,539.82 L312.6,539.52 L318.73,539.22 L325.13,538.91 L331.82,538.61 L338.81,538.3" stroke="#e60000" stroke-width="3.4" fill="none" stroke-dasharray="8.60 14.30" stroke-dashoffset="21.70" stroke-linecap="round" stroke-linejoin="round"/></g>
<text x="316.89" y="521.00" font-size="19.2" textLength="43.39" lengthAdjust="spacingAndGlyphs">t1ary</text>
</svg>
</body></html>
